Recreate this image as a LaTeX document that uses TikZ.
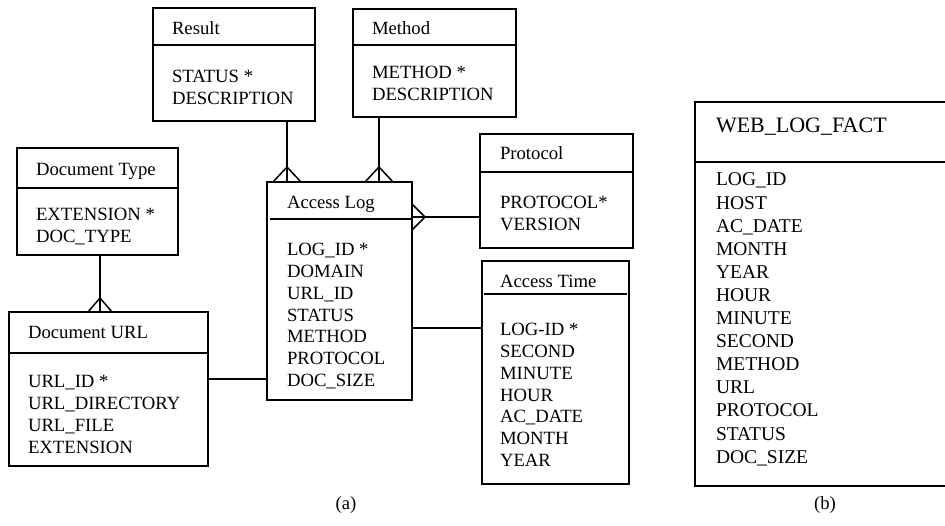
\documentclass[tikz,border=0pt]{standalone}
\usepackage{fontspec}
\setmainfont{Liberation Serif}
\usetikzlibrary{calc}
\newcommand\fieldlist[1]{\begin{tabular}[t]{@{}l@{}}#1\end{tabular}}
\begin{document}
\begin{tikzpicture}[x=1pt,y=-1pt,
  entity/.style={draw, line width=1.5pt, inner sep=0pt, outer sep=0pt, anchor=north west},
  rule/.style={line width=1.5pt},
  link/.style={line width=1.5pt},
  txt/.style={inner sep=0pt, outer sep=0pt, anchor=base west,
    font=\fontsize{18.7}{21.7}\selectfont},
  bigtxt/.style={inner sep=0pt, outer sep=0pt, anchor=base west,
    font=\fontsize{19.5}{23.1}\selectfont},
  headtxt/.style={inner sep=0pt, outer sep=0pt, anchor=base west,
    font=\fontsize{22}{26}\selectfont}]
\useasboundingbox (0,0) rectangle (945,526);

% ---------- (a) relational schema ----------
% Result
\node[entity, minimum width=162, minimum height=113] (res) at (153,8) {};
\draw[rule] ([yshift=-37pt]res.north west) -- ([yshift=-37pt]res.north east);
\node[txt] (resT) at (172,35) {Result};
\node[txt] (resB) at (172,83) {\fieldlist{STATUS *\\DESCRIPTION}};

% Method
\node[entity, minimum width=163, minimum height=108] (met) at (353,9) {};
\draw[rule] ([yshift=-36pt]met.north west) -- ([yshift=-36pt]met.north east);
\node[txt] (metT) at (372,35) {Method};
\node[txt] (metB) at (372,79) {\fieldlist{METHOD *\\DESCRIPTION}};

% Document Type
\node[entity, minimum width=161, minimum height=107] (dtype) at (17,148) {};
\draw[rule] ([yshift=-40pt]dtype.north west) -- ([yshift=-40pt]dtype.north east);
\node[txt] (dtypeT) at (36,176) {Document Type};
\node[txt] (dtypeB) at (36,221) {\fieldlist{EXTENSION *\\DOC\_TYPE}};

% Document URL
\node[entity, minimum width=199, minimum height=154] (durl) at (9,312) {};
\draw[rule] ([yshift=-41pt]durl.north west) -- ([yshift=-41pt]durl.north east);
\node[txt] (durlT) at (28,339) {Document URL};
\node[txt] (durlB) at (28,388) {\fieldlist{URL\_ID *\\URL\_DIRECTORY\\URL\_FILE\\EXTENSION}};

% Access Log
\node[entity, minimum width=145, minimum height=218] (alog) at (267,182) {};
\draw[rule] ([xshift=3pt,yshift=-37pt]alog.north west) -- ([yshift=-37pt]alog.north east);
\node[txt] (alogT) at (287,209) {Access Log};
\node[txt] (alogB) at (287,256) {\fieldlist{LOG\_ID *\\DOMAIN\\URL\_ID\\STATUS\\METHOD\\PROTOCOL\\DOC\_SIZE}};

% Protocol
\node[entity, minimum width=153, minimum height=114] (proto) at (480,134) {};
\draw[rule] ([yshift=-38pt]proto.north west) -- ([yshift=-38pt]proto.north east);
\node[txt] (protoT) at (500,160) {Protocol};
\node[txt] (protoB) at (500,209) {\fieldlist{PROTOCOL*\\VERSION}};

% Access Time
\node[entity, minimum width=147, minimum height=223] (atime) at (482,261) {};
\draw[rule] ([xshift=2pt,yshift=-33pt]atime.north west) -- ([xshift=-2pt,yshift=-33pt]atime.north east);
\node[txt] (atimeT) at (500,288) {Access Time};
\node[txt] (atimeB) at (500,336) {\fieldlist{LOG-ID *\\SECOND\\MINUTE\\HOUR\\AC\_DATE\\MONTH\\YEAR}};

% connector positions
\coordinate (xres) at (287,0);
\coordinate (xmet) at (379,0);
\coordinate (xdoc) at (100,0);
\coordinate (yproto) at (0,217);
\coordinate (ytime) at (0,328);
\coordinate (yurl) at (0,379);

% Result -< Access Log
\draw[link] (res.south -| xres) -- (alog.north -| xres);
\draw[link] ($(alog.north -| xres)+(-14,0)$) -- ++(14,-15) -- ++(14,15);
% Method -< Access Log
\draw[link] (met.south -| xmet) -- (alog.north -| xmet);
\draw[link] ($(alog.north -| xmet)+(-14,0)$) -- ++(14,-15) -- ++(14,15);
% Document Type -< Document URL
\draw[link] (dtype.south -| xdoc) -- (durl.north -| xdoc);
\draw[link] ($(durl.north -| xdoc)+(-12,0)$) -- ++(12,-14) -- ++(12,14);
% Protocol -< Access Log
\draw[link] (alog.east |- yproto) -- (proto.west |- yproto);
\draw[link] ($(alog.east |- yproto)+(0,-13)$) -- ++(13,13) -- ++(-13,13);
% Access Log -- Access Time
\draw[link] (alog.east |- ytime) -- (atime.west |- ytime);
% Document URL -- Access Log
\draw[link] (durl.east |- yurl) -- (alog.west |- yurl);

\node[txt, anchor=base] (capA) at (346,509) {(a)};

% ---------- (b) fact table ----------
\node[entity, minimum width=262, minimum height=384] (fact) at (695,102) {};
\draw[rule] ([yshift=-60pt]fact.north west) -- ([yshift=-60pt]fact.north east);
\node[headtxt] (factT) at (716,133) {WEB\_LOG\_FACT};
\node[bigtxt] (factB) at (716,186) {\fieldlist{LOG\_ID\\HOST\\AC\_DATE\\MONTH\\YEAR\\HOUR\\MINUTE\\SECOND\\METHOD\\URL\\PROTOCOL\\STATUS\\DOC\_SIZE}};

\node[txt, anchor=base] (capB) at (825,509) {(b)};
\end{tikzpicture}
\end{document}
